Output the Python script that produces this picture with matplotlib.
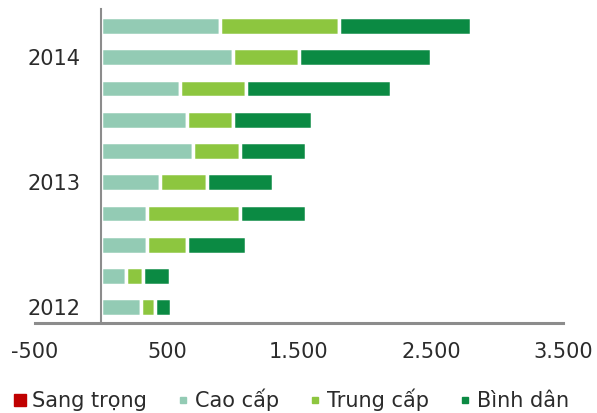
import numpy as np
import matplotlib.pyplot as plt
from matplotlib.lines import Line2D
from matplotlib.ticker import FuncFormatter

# quarterly rows, bottom to top
periods = ["2012", "", "", "", "2013", "", "", "", "2014", ""]
sang_trong = [0, 0, 0, 0, 0, 0, 0, 0, 0, 0]
cao_cap = [300, 190, 350, 350, 450, 700, 650, 600, 1000, 900]
trung_cap = [110, 130, 300, 700, 350, 350, 350, 500, 500, 900]
binh_dan = [120, 200, 450, 500, 500, 500, 600, 1100, 1000, 1000]

series = [("Sang trọng", sang_trong, "#c00000"),
          ("Cao cấp", cao_cap, "#93cbb4"),
          ("Trung cấp", trung_cap, "#8dc63f"),
          ("Bình dân", binh_dan, "#0b8a43")]

xticks = [-500, 500, 1500, 2500, 3500]

fig = plt.figure(figsize=(5.97, 4.13), dpi=100)
ax = fig.add_axes([0.0586, 0.218, 0.8844, 0.760])

y = np.arange(len(periods))
left = np.zeros(len(periods))
for name, vals, col in series:
    vals = np.array(vals, dtype=float)
    ax.barh(y, vals, left=left, height=0.57, color=col,
            edgecolor="white", linewidth=2.5)
    left += vals

ax.set_xlim(-500, 3500)
ax.set_ylim(-0.51, 9.545)
ax.set_xticks(xticks)
ax.xaxis.set_major_formatter(FuncFormatter(lambda v, p: f"{int(v):,}".replace(",", ".")))
ax.set_yticks(y)
ax.set_yticklabels(periods)

for s in ["top", "right"]:
    ax.spines[s].set_visible(False)
ax.spines["left"].set_position(("data", 0))
ax.spines["left"].set_color("#8c8c8c")
ax.spines["left"].set_linewidth(1.5)
ax.spines["bottom"].set_color("#8c8c8c")
ax.spines["bottom"].set_linewidth(2.2)

ax.tick_params(axis="x", length=0, pad=14, labelsize=15, labelcolor="#2b2b2b")
ax.tick_params(axis="y", length=0, pad=15, labelsize=15, labelcolor="#2b2b2b")

sizes = [8, 4.5, 4.5, 4.5]
handles = [Line2D([], [], marker="s", linestyle="none", markersize=ms,
                  markerfacecolor=col, markeredgecolor=col)
           for (name, vals, col), ms in zip(series, sizes)]
fig.legend(handles, [s[0] for s in series], loc="lower center",
           bbox_to_anchor=(0.488, -0.041), ncol=4, frameon=False,
           fontsize=15, handlelength=0.6, handletextpad=0.3,
           columnspacing=1.4, labelcolor="#2b2b2b")

fig.savefig("out.png", dpi=100)
